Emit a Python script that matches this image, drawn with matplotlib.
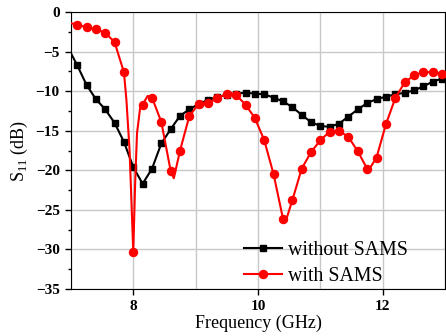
import numpy as np
import matplotlib.pyplot as plt
from matplotlib.ticker import MultipleLocator

plt.rcParams['font.family'] = ['Liberation Serif', 'DejaVu Serif']
plt.rcParams['mathtext.fontset'] = 'custom'
plt.rcParams['mathtext.rm'] = 'Liberation Serif'

# without SAMS (black squares)
f_wo = [7.0, 7.1, 7.25, 7.4, 7.55, 7.7, 7.85, 8.0, 8.15, 8.3, 8.45, 8.6, 8.75, 8.9,
        9.05, 9.2, 9.35, 9.5, 9.65, 9.8, 9.95, 10.1, 10.25, 10.4, 10.55, 10.7,
        10.85, 11.0, 11.15, 11.3, 11.45, 11.6, 11.75, 11.9, 12.05, 12.2, 12.35,
        12.5, 12.65, 12.8, 12.95, 13.0]
s_wo = [-5.2, -6.7, -9.2, -11.0, -12.3, -14.0, -16.4, -19.6, -21.7, -19.8, -16.6,
        -14.8, -13.1, -12.3, -11.6, -11.1, -10.7, -10.5, -10.3, -10.2, -10.3,
        -10.4, -10.8, -11.3, -12.0, -13.0, -13.9, -14.4, -14.5, -14.1, -13.2,
        -12.3, -11.5, -11.0, -10.7, -10.4, -10.2, -9.9, -9.4, -8.8, -8.4, -8.2]

# with SAMS (red circles)
f_w = [7.0, 7.1, 7.25, 7.4, 7.55, 7.7, 7.85, 7.89, 7.94, 7.97, 8.0, 8.03, 8.06,
       8.11, 8.15, 8.23, 8.3, 8.45, 8.6, 8.65, 8.75, 8.9, 9.05, 9.2, 9.35, 9.5,
       9.56, 9.65, 9.8, 9.95, 10.1, 10.25, 10.4, 10.45, 10.55, 10.7, 10.85, 11.0,
       11.15, 11.3, 11.45, 11.6, 11.75, 11.78, 11.9, 12.05, 12.2, 12.35, 12.5,
       12.65, 12.8, 12.95, 13.0]
s_w = [-1.4, -1.6, -1.9, -2.2, -2.6, -3.8, -7.6, -11.1, -17.4, -23.8, -30.3,
       -21.6, -15.3, -12.1, -11.7, -10.6, -10.8, -13.9, -20.1, -21.0, -17.5,
       -13.1, -11.6, -11.5, -10.9, -10.3, -10.2, -10.5, -11.7, -13.4, -16.2,
       -20.5, -26.1, -26.3, -23.8, -19.8, -17.7, -16.2, -15.1, -15.0, -15.8,
       -17.6, -19.8, -19.9, -18.4, -14.2, -10.9, -8.9, -8.0, -7.6, -7.6, -7.8, -7.9]


def marker_idx(freqs):
    idx = []
    for i, f in enumerate(freqs):
        k = (f - 7.1) / 0.15
        if f >= 7.09 and f <= 12.96 and abs(k - round(k)) < 0.02:
            idx.append(i)
    return idx


fig = plt.figure(figsize=(4.46, 3.36), dpi=100)
ax = fig.add_axes([0.159, 0.14, 0.839, 0.824])

ax.plot(f_wo, s_wo, color='black', lw=1.5, marker='s', ms=4.5,
        markevery=marker_idx(f_wo), label='without SAMS', zorder=3)
ax.plot(f_w, s_w, color='red', lw=1.5, marker='o', ms=5.8,
        markevery=marker_idx(f_w), label='with SAMS', zorder=4)

ax.set_xlim(7, 13)
ax.set_ylim(-35, 0)
ax.xaxis.set_major_locator(MultipleLocator(2))
ax.xaxis.set_minor_locator(MultipleLocator(1))
ax.yaxis.set_major_locator(MultipleLocator(5))
ax.yaxis.set_minor_locator(MultipleLocator(2.5))
ax.set_xticks([8, 10, 12])
ax.grid(True, which='major', color='#c8c8c8', lw=1)
ax.grid(True, which='minor', axis='x', color='#c8c8c8', lw=1)
ax.set_axisbelow(True)

ax.tick_params(axis='both', which='major', direction='out', length=4.5, width=1,
               labelsize=11)
ax.tick_params(axis='y', which='minor', direction='out', length=2.5, width=1)
ax.tick_params(axis='x', which='minor', length=0)
for lab in ax.get_xticklabels() + ax.get_yticklabels():
    lab.set_fontweight('bold')

ax.set_xlabel('Frequency (GHz)', fontsize=13, labelpad=1)
ax.set_ylabel('S$_{\\mathregular{11}}$ (dB)', fontsize=13, labelpad=4)

ax.legend(loc='upper left', bbox_to_anchor=(0.463, 0.172), frameon=False,
          fontsize=14.3, handlelength=1.9, handletextpad=0.3, borderpad=0,
          borderaxespad=0, labelspacing=0.32)

fig.savefig('out.png', dpi=100)
